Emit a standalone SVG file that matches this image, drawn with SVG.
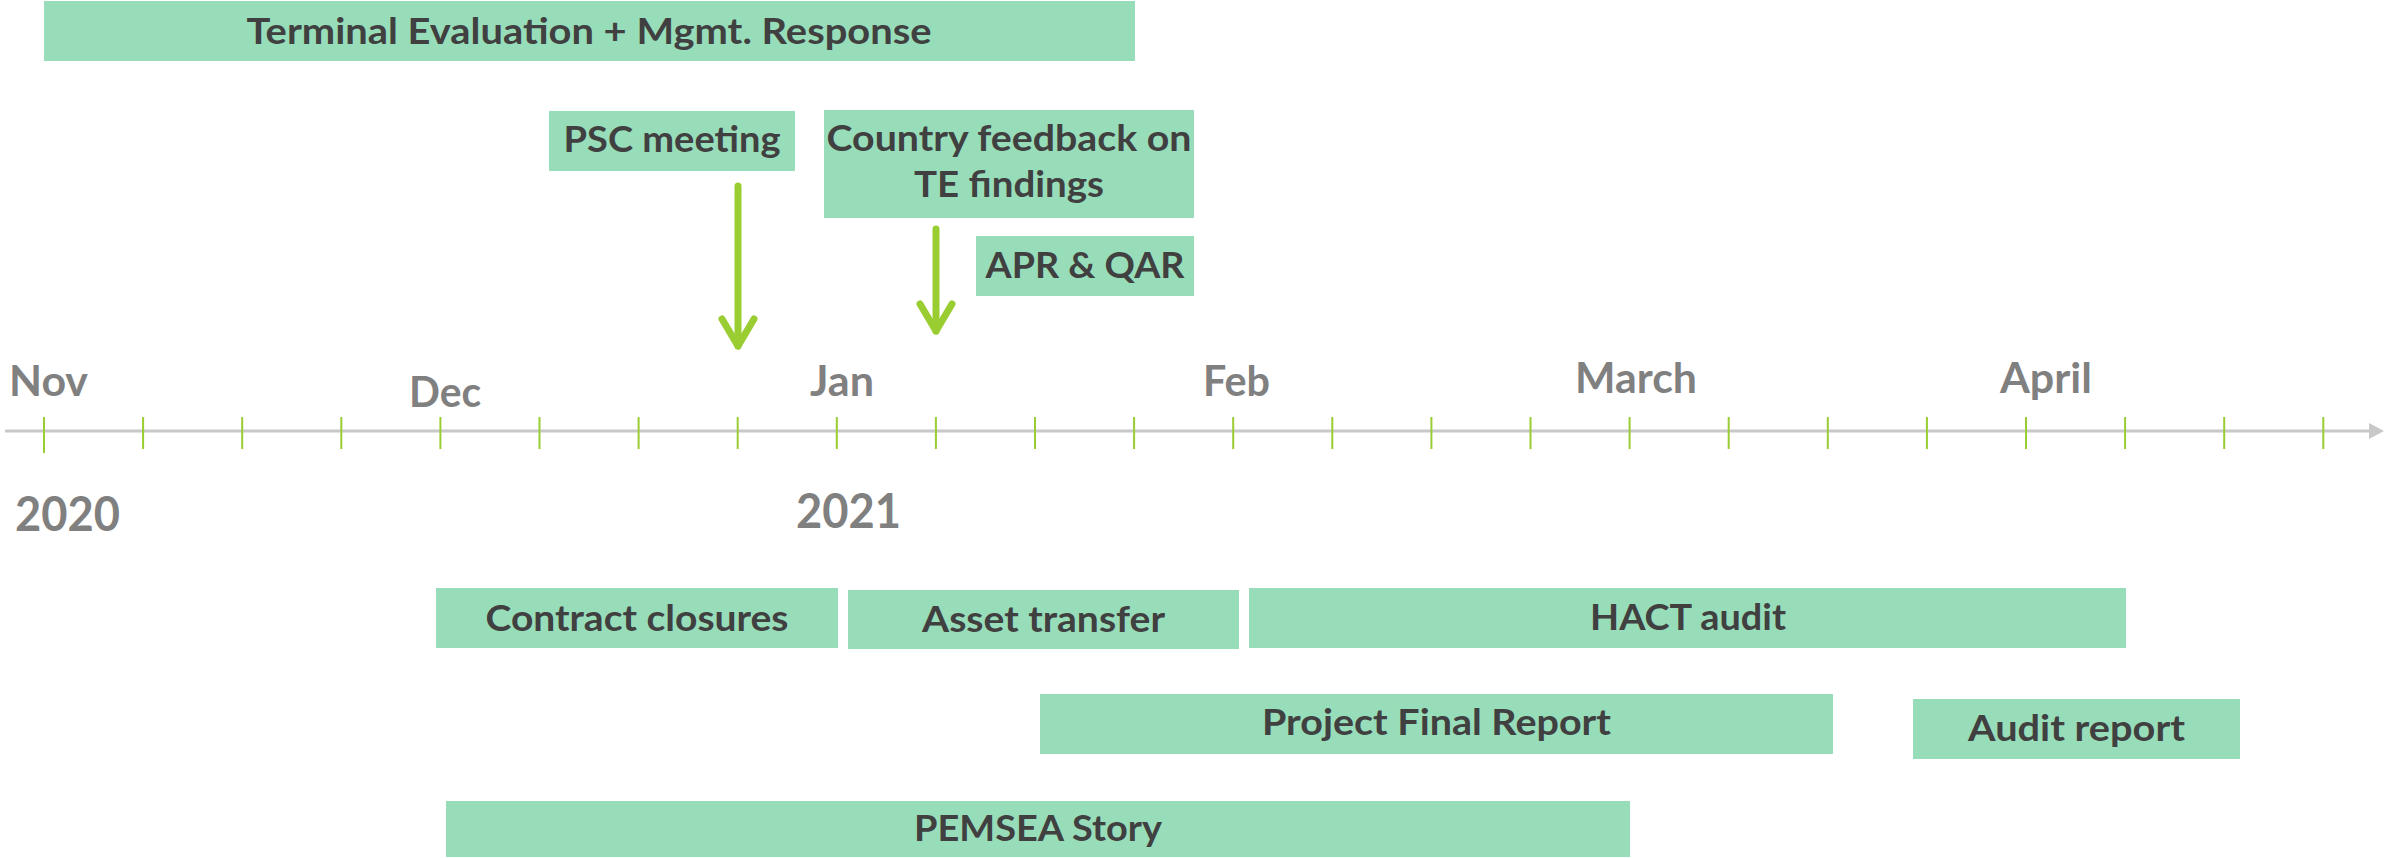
<svg xmlns="http://www.w3.org/2000/svg" width="2384" height="858" viewBox="0 0 2384 858">
<defs>
<style>
.box{fill:#98DDBA}
.lbl{font-family:Lato,"Liberation Sans",sans-serif;font-weight:bold;font-size:37px;fill:#404040;text-anchor:middle}
.mon{font-family:Lato,"Liberation Sans",sans-serif;font-weight:bold;font-size:42px;fill:#808080}
.yr{font-family:Lato,"Liberation Sans",sans-serif;font-weight:bold;font-size:48px;fill:#808080}
.tick{stroke:#9ACD32;stroke-width:2;fill:none}
.axis{stroke:#C8C8C8;stroke-width:3;fill:none}
.garrow{stroke:#9ACD32;stroke-width:7;stroke-linecap:round;fill:none}
</style>
<marker id="chev" markerUnits="userSpaceOnUse" markerWidth="40" markerHeight="40" viewBox="-34 -20 40 40" refX="0" refY="0" orient="auto" overflow="visible">
<path d="M-27 -16 L0 0 L-27 16" fill="none" stroke="#9ACD32" stroke-width="7" stroke-linecap="round" stroke-linejoin="round"/>
</marker>
<marker id="tri" markerUnits="userSpaceOnUse" markerWidth="16" markerHeight="18" viewBox="0 -9 16 18" refX="0" refY="0" orient="auto" overflow="visible">
<path d="M0 -8 L15 0 L0 8 Z" fill="#C8C8C8"/>
</marker>
</defs>

<g id="timeline">
<line class="axis" x1="5" y1="431" x2="2369" y2="431" marker-end="url(#tri)"/>
<path class="tick" d="M44 417V453 M143.1 417V449 M242.2 417V449 M341.3 417V449 M440.4 417V449 M539.5 417V449 M638.6 417V449 M737.7 417V449 M836.8 417V449 M935.9 417V449 M1035 417V449 M1134.1 417V449 M1233.2 417V449 M1332.3 417V449 M1431.4 417V449 M1530.5 417V449 M1629.6 417V449 M1728.7 417V449 M1827.8 417V449 M1926.9 417V449 M2026 417V449 M2125.1 417V449 M2224.2 417V449 M2323.3 417V449"/>
<text class="mon" x="9" y="396" textLength="79" lengthAdjust="spacingAndGlyphs">Nov</text>
<text class="mon" x="409" y="407" textLength="72" lengthAdjust="spacingAndGlyphs">Dec</text>
<text class="mon" x="810" y="396" textLength="64" lengthAdjust="spacingAndGlyphs">Jan</text>
<text class="mon" x="1203" y="396" textLength="67" lengthAdjust="spacingAndGlyphs">Feb</text>
<text class="mon" x="1575" y="393" textLength="122" lengthAdjust="spacingAndGlyphs">March</text>
<text class="mon" x="2000" y="393" textLength="92" lengthAdjust="spacingAndGlyphs">April</text>
<text class="yr" x="15" y="531" textLength="105" lengthAdjust="spacingAndGlyphs">2020</text>
<text class="yr" x="796" y="528" textLength="105" lengthAdjust="spacingAndGlyphs">2021</text>
</g>

<g id="connectors">
<line class="garrow" x1="738" y1="186" x2="738" y2="346" marker-end="url(#chev)"/>
<line class="garrow" x1="936" y1="229" x2="936" y2="331" marker-end="url(#chev)"/>
</g>

<g id="terminal-evaluation">
<rect class="box" x="44" y="1" width="1091" height="60"/>
<text class="lbl" x="589" y="44" textLength="685" lengthAdjust="spacingAndGlyphs">Terminal Evaluation + Mgmt. Response</text>
</g>
<g id="psc-meeting">
<rect class="box" x="549" y="111" width="246" height="60"/>
<text class="lbl" x="672" y="152" textLength="217" lengthAdjust="spacingAndGlyphs">PSC meeting</text>
</g>
<g id="country-feedback">
<rect class="box" x="824" y="110" width="370" height="108"/>
<text class="lbl" x="1009" y="151" textLength="365" lengthAdjust="spacingAndGlyphs">Country feedback on</text>
<text class="lbl" x="1009" y="197" textLength="190" lengthAdjust="spacingAndGlyphs">TE findings</text>
</g>
<g id="apr-qar">
<rect class="box" x="976" y="236" width="218" height="60"/>
<text class="lbl" x="1085" y="278" textLength="199" lengthAdjust="spacingAndGlyphs">APR &amp; QAR</text>
</g>
<g id="contract-closures">
<rect class="box" x="436" y="588" width="402" height="60"/>
<text class="lbl" x="637" y="631" textLength="303" lengthAdjust="spacingAndGlyphs">Contract closures</text>
</g>
<g id="asset-transfer">
<rect class="box" x="848" y="590" width="391" height="59"/>
<text class="lbl" x="1043.5" y="632" textLength="243" lengthAdjust="spacingAndGlyphs">Asset transfer</text>
</g>
<g id="hact-audit">
<rect class="box" x="1249" y="588" width="877" height="60"/>
<text class="lbl" x="1688" y="630" textLength="196" lengthAdjust="spacingAndGlyphs">HACT audit</text>
</g>
<g id="project-final-report">
<rect class="box" x="1040" y="694" width="793" height="60"/>
<text class="lbl" x="1436.5" y="735" textLength="349" lengthAdjust="spacingAndGlyphs">Project Final Report</text>
</g>
<g id="audit-report">
<rect class="box" x="1913" y="699" width="327" height="60"/>
<text class="lbl" x="2076.5" y="741" textLength="217" lengthAdjust="spacingAndGlyphs">Audit report</text>
</g>
<g id="pemsea-story">
<rect class="box" x="446" y="801" width="1184" height="56"/>
<text class="lbl" x="1038" y="841" textLength="248" lengthAdjust="spacingAndGlyphs">PEMSEA Story</text>
</g>
</svg>
